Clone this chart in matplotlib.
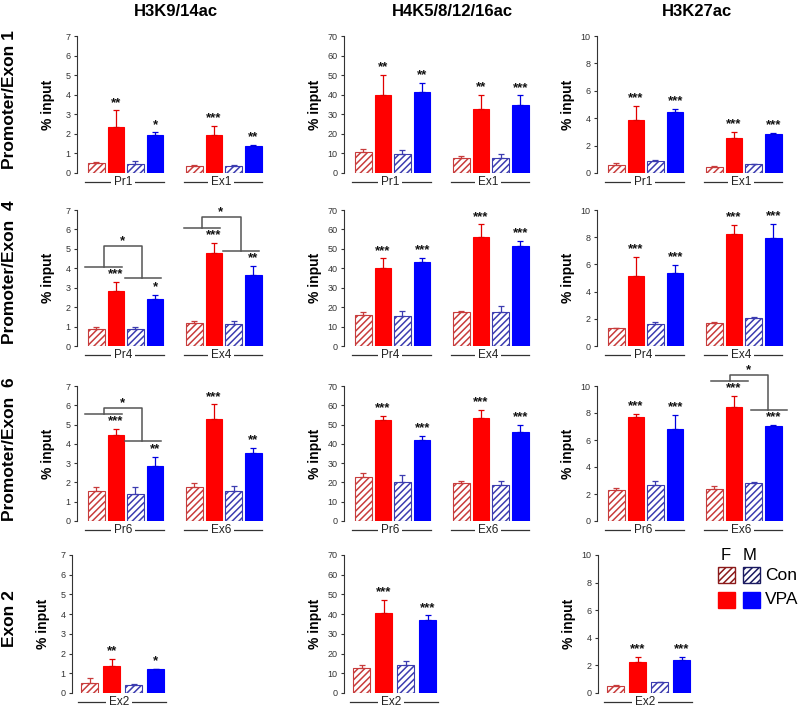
import matplotlib
matplotlib.use("Agg")
import matplotlib.pyplot as plt
import matplotlib.transforms as mtransforms
from matplotlib.patches import Rectangle

plt.rcParams['font.family'] = ['Liberation Sans', 'DejaVu Sans']
plt.rcParams['hatch.linewidth'] = 1.1

# ---------------- data ----------------
marks = ["H3K9/14ac", "H4K5/8/12/16ac", "H3K27ac"]
row_labels = ["Promoter/Exon 1", "Promoter/Exon  4", "Promoter/Exon  6", "Exon 2"]
region_labels = [["Pr1", "Ex1"], ["Pr4", "Ex4"], ["Pr6", "Ex6"], ["Ex2"]]
conditions = ["F Con", "F VPA", "M Con", "M VPA"]
y_max = [7, 70, 10]
y_step = [1, 10, 2]

# values per row -> per region -> [F Con, F VPA, M Con, M VPA]
h3k9_mean = [
    [[0.51, 2.35, 0.48, 1.93], [0.36, 1.93, 0.36, 1.40]],
    [[0.89, 2.85, 0.87, 2.40], [1.17, 4.79, 1.13, 3.65]],
    [[1.57, 4.48, 1.40, 2.86], [1.74, 5.28, 1.57, 3.55]],
    [[0.51, 1.38, 0.42, 1.21]],
]
h3k9_sem = [
    [[0.05, 0.85, 0.12, 0.14], [0.04, 0.47, 0.06, 0.02]],
    [[0.10, 0.46, 0.12, 0.24], [0.13, 0.53, 0.17, 0.47]],
    [[0.21, 0.28, 0.38, 0.47], [0.21, 0.77, 0.26, 0.26]],
    [[0.25, 0.34, 0.05, 0.02]],
]
h3k9_sig = [
    [["**", "*"], ["***", "**"]],
    [["***", "*"], ["***", "**"]],
    [["***", "**"], ["***", "**"]],
    [["**", "*"]],
]

h4_mean = [
    [[10.6, 39.6, 9.9, 41.3], [7.7, 32.8, 7.7, 35.0]],
    [[16.0, 40.0, 15.6, 43.0], [17.7, 56.3, 17.7, 51.6]],
    [[22.9, 52.2, 20.3, 41.9], [19.7, 53.6, 18.6, 46.2]],
    [[12.8, 40.6, 14.0, 37.2]],
]
h4_sem = [
    [[1.9, 10.5, 2.1, 4.7], [0.9, 7.3, 1.9, 4.6]],
    [[1.3, 5.1, 2.4, 2.5], [0.5, 6.3, 3.1, 2.4]],
    [[2.1, 2.3, 3.8, 2.1], [1.0, 3.8, 2.3, 3.8]],
    [[1.2, 6.8, 2.2, 2.2]],
]
h4_sig = [
    [["**", "**"], ["**", "***"]],
    [["***", "***"], ["***", "***"]],
    [["***", "***"], ["***", "***"]],
    [["***", "***"]],
]

h3k27_mean = [
    [[0.59, 3.86, 0.86, 4.45], [0.44, 2.54, 0.64, 2.88]],
    [[1.30, 5.17, 1.60, 5.37], [1.67, 8.20, 2.04, 7.95]],
    [[2.33, 7.67, 2.65, 6.79], [2.38, 8.46, 2.84, 7.06]],
    [[0.54, 2.24, 0.78, 2.37]],
]
h3k27_sem = [
    [[0.17, 1.03, 0.12, 0.22], [0.05, 0.44, 0.04, 0.03]],
    [[0.03, 1.38, 0.20, 0.61], [0.08, 0.69, 0.08, 1.04]],
    [[0.15, 0.25, 0.29, 1.05], [0.19, 0.80, 0.05, 0.05]],
    [[0.07, 0.37, 0.05, 0.24]],
]
h3k27_sig = [
    [["***", "***"], ["***", "***"]],
    [["***", "***"], ["***", "***"]],
    [["***", "***"], ["***", "***"]],
    [["***", "***"]],
]

all_means = [h3k9_mean, h4_mean, h3k27_mean]
all_sems = [h3k9_sem, h4_sem, h3k27_sem]
all_sigs = [h3k9_sig, h4_sig, h3k27_sig]

# F-vs-M comparison brackets: (row, col, region, F line y, M line y, top y, label)
brackets = [
    (1, 0, 0, 4.08, 3.52, 5.15, "*"),
    (1, 0, 1, 6.09, 4.89, 6.66, "*"),
    (2, 0, 0, 5.57, 4.14, 5.86, "*"),
    (2, 2, 1, 10.37, 8.21, 10.80, "*"),
]

# ---------------- style ----------------
fill_colors = ["white", "#ff0000", "white", "#0000ff"]
edge_colors = ["#c83c3c", "#ff0000", "#3c3cb0", "#0000ff"]
hatches = ["/////", None, "/////", None]
err_colors = ["#c83c3c", "#e00000", "#3c3cb0", "#0000e0"]

W, H = 800, 707
fig = plt.figure(figsize=(W / 100, H / 100), dpi=100)

col_left = [77, 344, 597]
row_bottom = [173, 346, 521, 693]
row_top = [36, 210, 386, 555]
row4_left = [72, 344, 598]

for r in range(4):
    for c in range(3):
        n_reg = len(region_labels[r])
        if r < 3:
            left = col_left[c]
            width_px = 190
            xlim = (-0.98, 8.7)
            bw = 0.85
        else:
            left = row4_left[c]
            width_px = 99
            xlim = (-0.8, 3.7)
            bw = 0.8
        ax = fig.add_axes([left / W, 1 - row_bottom[r] / H, width_px / W,
                           (row_bottom[r] - row_top[r]) / H])
        means = all_means[c][r]
        sems = all_sems[c][r]
        sigs = all_sigs[c][r]
        for g in range(n_reg):
            off = 5 * g
            for k in range(4):
                x = off + k
                ax.bar(x, means[g][k], width=bw, color=fill_colors[k],
                       edgecolor=edge_colors[k], hatch=hatches[k],
                       linewidth=0.8, zorder=2)
                ax.errorbar(x, means[g][k], yerr=[[0], [sems[g][k]]], fmt='none',
                            ecolor=err_colors[k], elinewidth=0.9, capsize=2,
                            capthick=0.9, zorder=3)
            for j, k in enumerate([1, 3]):
                ax.annotate(sigs[g][j], (off + k, means[g][k] + sems[g][k]),
                            xytext=(0, 5.5), textcoords='offset points',
                            ha='center', va='center', fontsize=9.5,
                            fontweight='bold', color='#111111')
            # region label with side lines
            trans = mtransforms.blended_transform_factory(ax.transData, ax.transAxes)
            ly = -9 / (row_bottom[r] - row_top[r])
            ax.plot([off - 0.55, off + 3.45], [ly, ly], color='#333333', lw=0.9,
                    transform=trans, clip_on=False, zorder=1)
            ax.text(off + 1.35, ly, region_labels[r][g], transform=trans,
                    ha='center', va='center', fontsize=8.5, color='#222222',
                    bbox=dict(facecolor='white', edgecolor='none', pad=2.0),
                    zorder=5, clip_on=False)
        ax.set_xlim(*xlim)
        ax.set_ylim(0, y_max[c])
        ax.set_yticks(range(0, y_max[c] + 1, y_step[c]))
        ax.set_xticks([])
        for s in ['top', 'right', 'bottom']:
            ax.spines[s].set_visible(False)
        ax.spines['left'].set_color('#333333')
        ax.spines['left'].set_linewidth(0.8)
        ax.tick_params(axis='y', length=2.5, width=0.8, labelsize=6.5,
                       colors='#333333', pad=2)
        ax.set_ylabel("% input", fontsize=10, fontweight='bold')
        ax.yaxis.set_label_coords(-22 / width_px, 0.5)

        for (br, bc, breg, yf, ym, yt, lab) in brackets:
            if br == r and bc == c:
                off = 5 * breg + (0.4 if c == 2 else 0.0)
                kw = dict(color='#555555', lw=1.1, clip_on=False, zorder=4)
                ax.plot([off - 0.55, off + 1.3], [yf, yf], **kw)
                ax.plot([off + 1.45, off + 3.3], [ym, ym], **kw)
                ax.plot([off + 0.4, off + 0.4, off + 2.35, off + 2.35],
                        [yf, yt, yt, ym], **kw)
                ax.annotate(lab, ((off + 0.4 + off + 2.35) / 2 - 0.05, yt),
                            xytext=(0, 3.5), textcoords='offset points',
                            ha='center', va='center', fontsize=9.5,
                            fontweight='bold', color='#111111',
                            annotation_clip=False)

# titles
title_x = [176, 452, 697]
for c in range(3):
    fig.text(title_x[c] / W, 1 - 11 / H, marks[c], ha='center', va='center',
             fontsize=12, fontweight='bold')

# row labels
row_label_y = [100, 272, 449, 619]
for r in range(4):
    fig.text(10 / W, 1 - row_label_y[r] / H, row_labels[r], rotation=90,
             ha='center', va='center', fontsize=12.5, fontweight='bold')

# legend
fig.text(726 / W, 1 - 556 / H, "F", ha='center', va='center', fontsize=12)
fig.text(750 / W, 1 - 556 / H, "M", ha='center', va='center', fontsize=12)
leg_specs = [
    (718, 567, "white", "#8b1a1a", "/////"),
    (743, 567, "white", "#1a1a60", "/////"),
    (718, 592, "#ff0000", "#ff0000", None),
    (743, 592, "#0000ff", "#0000ff", None),
]
for (x0, y0, fc, ec, ht) in leg_specs:
    fig.patches.append(Rectangle((x0 / W, 1 - (y0 + 16) / H), 17 / W, 16 / H,
                                 facecolor=fc, edgecolor=ec, hatch=ht,
                                 linewidth=1.0, transform=fig.transFigure,
                                 figure=fig))
fig.text(765 / W, 1 - 575 / H, "Con", ha='left', va='center', fontsize=12.5)
fig.text(765 / W, 1 - 600 / H, "VPA", ha='left', va='center', fontsize=12.5)

fig.savefig("out.png", dpi=100)
